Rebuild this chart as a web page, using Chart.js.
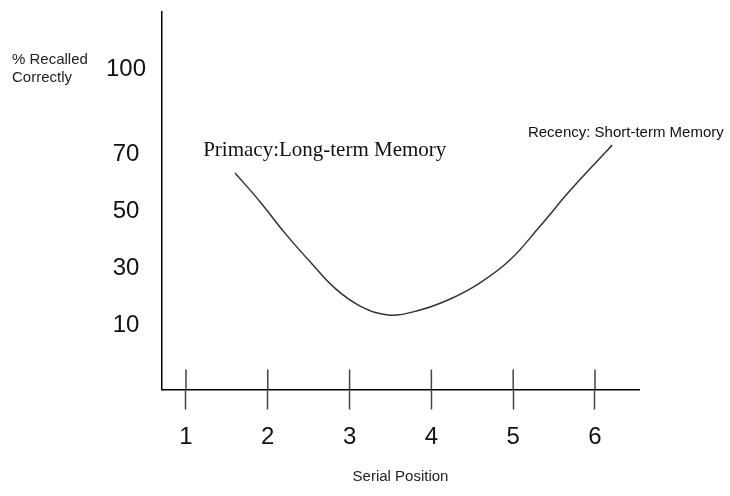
<!DOCTYPE html>
<html>
<head>
<meta charset="utf-8">
<script src="https://cdn.jsdelivr.net/npm/chart.js@4/dist/chart.umd.min.js"></script>
<style>
  html, body { margin: 0; padding: 0; background: #fff; }
  #wrap { width: 730px; height: 496px; }
</style>
</head>
<body>
<div id="wrap"><canvas id="myChart" width="730" height="496"></canvas></div>
<script>
// serial position curve
const serialPos = [1.60, 1.91, 2.21, 2.52, 2.82, 3.13, 3.49, 3.86, 4.23, 4.59, 4.96, 5.33, 5.69, 6.06, 6.21];
const recalled  = [63.6, 53.3, 42.4, 32.2, 23.0, 16.7, 13.5, 15.3, 19.2, 24.8, 32.9, 44.9, 57.2, 68.8, 73.4];

const xTicks = [1, 2, 3, 4, 5, 6];
const yTicks = [10, 30, 50, 70, 100];

const yAxisLabel = ['% Recalled', 'Correctly'];
const xAxisLabel = 'Serial Position';

// curve notes, anchored in data units
const notes = [
    { text: 'Primacy:Long-term Memory', x: 1.21, y: 69.5, font: '21px "Liberation Serif", "Times New Roman", serif' },
    { text: 'Recency: Short-term Memory', x: 5.18, y: 76.3, font: '15px "Liberation Sans", Arial, sans-serif' }
];

const sans = '"Liberation Sans", Arial, sans-serif';

const extras = {
    id: 'extras',
    afterDraw(chart) {
        const ctx = chart.ctx;
        const xs = chart.scales.x;
        const ys = chart.scales.y;
        const axisY = chart.chartArea.bottom;
        ctx.save();
        // upper half of the x tick marks
        ctx.strokeStyle = '#444';
        ctx.lineWidth = 1.5;
        xTicks.forEach(v => {
            const px = xs.getPixelForValue(v);
            ctx.beginPath();
            ctx.moveTo(px, axisY - 20);
            ctx.lineTo(px, axisY);
            ctx.stroke();
        });
        // notes
        ctx.fillStyle = '#111';
        ctx.textBaseline = 'alphabetic';
        ctx.textAlign = 'left';
        notes.forEach(n => {
            ctx.font = n.font;
            ctx.fillText(n.text, xs.getPixelForValue(n.x), ys.getPixelForValue(n.y));
        });
        // y axis caption, horizontal at top left
        ctx.font = '15px ' + sans;
        ctx.fillStyle = '#222';
        ctx.fillText(yAxisLabel[0], 12, 64);
        ctx.fillText(yAxisLabel[1], 12, 82);
        ctx.restore();
    }
};

const data = {
    datasets: [{
        label: 'Recall',
        data: serialPos.map((x, i) => ({ x: x, y: recalled[i] })),
        borderColor: '#333',
        borderWidth: 1.5,
        pointRadius: 0,
        fill: false,
        tension: 0.4
    }]
};

const config = {
    type: 'line',
    data: data,
    options: {
        responsive: false,
        animation: false,
        layout: { padding: { top: 12, right: 91, left: 0, bottom: 0 } },
        plugins: {
            legend: { display: false },
            tooltip: { enabled: false }
        },
        scales: {
            x: {
                type: 'linear',
                min: 0.707,
                max: 6.538,
                afterBuildTicks: (scale) => { scale.ticks = xTicks.map(v => ({ value: v })); },
                afterFit: (scale) => {
                    scale.height = 106.5;
                    scale.paddingLeft = 0;
                    scale.paddingRight = 0;
                },
                grid: {
                    drawOnChartArea: false,
                    drawTicks: true,
                    tickLength: 20,
                    tickColor: '#444',
                    tickWidth: 1.5
                },
                border: { color: '#000', width: 1.5 },
                ticks: {
                    padding: 13,
                    color: '#111',
                    font: { family: sans, size: 24 },
                    callback: (v) => String(v)
                },
                title: {
                    display: true,
                    text: xAxisLabel,
                    color: '#222',
                    font: { family: sans, size: 15 },
                    padding: { top: 0, bottom: 10 }
                }
            },
            y: {
                type: 'linear',
                min: -12.7,
                max: 120.3,
                afterBuildTicks: (scale) => { scale.ticks = yTicks.map(v => ({ value: v })); },
                afterFit: (scale) => {
                    scale.width = 162;
                    scale.paddingTop = 0;
                    scale.paddingBottom = 0;
                },
                grid: { drawOnChartArea: false, drawTicks: false },
                border: { color: '#000', width: 1.5 },
                ticks: {
                    padding: 16,
                    crossAlign: 'center',
                    color: '#111',
                    font: { family: sans, size: 24 },
                    callback: (v) => String(v)
                }
            }
        }
    },
    plugins: [extras]
};

var myChart = new Chart(document.getElementById('myChart'), config);
</script>
</body>
</html>
